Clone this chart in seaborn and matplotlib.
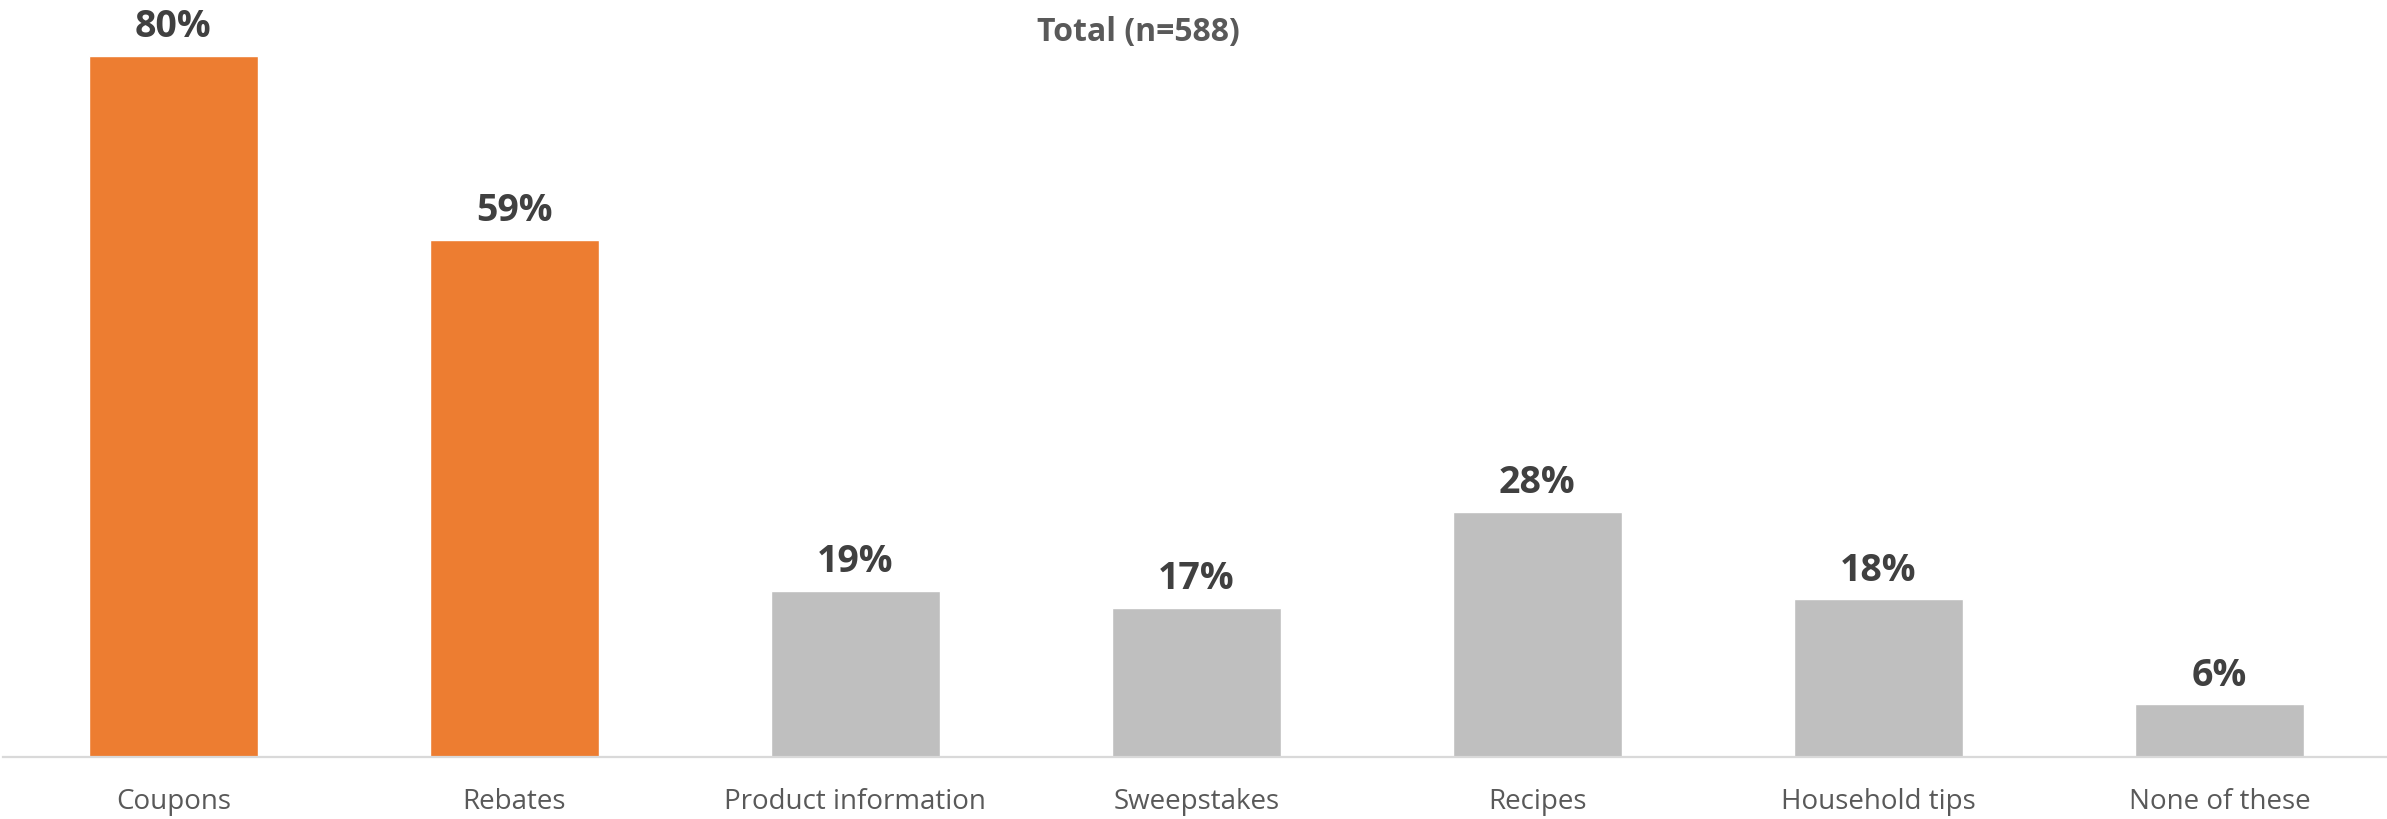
import matplotlib
matplotlib.use("Agg")
import matplotlib.pyplot as plt
import seaborn as sns
import pandas as pd

categories = ["Coupons", "Rebates", "Product information", "Sweepstakes",
              "Recipes", "Household tips", "None of these"]
values = [80, 59, 19, 17, 28, 18, 6]
labels = ["80%", "59%", "19%", "17%", "28%", "18%", "6%"]
highlight = [True, True, False, False, False, False, False]
subtitle = "Total (n=588)"

ORANGE = "#ED7D31"
GRAY = "#BFBFBF"

sns.set_theme(style="white")
plt.rcParams["font.family"] = ["Open Sans", "DejaVu Sans"]

df = pd.DataFrame({"category": categories, "value": values})
palette = {c: (ORANGE if h else GRAY) for c, h in zip(categories, highlight)}

fig = plt.figure(figsize=(23.87, 8.19), dpi=100)
ax = fig.add_axes([0.0012, 62 / 819, 1.0, 757 / 819])

sns.barplot(data=df, x="category", y="value", hue="category", palette=palette,
            width=0.495, legend=False, ax=ax, saturation=1)

ax.set_ylim(0, 86.4)
ax.set_xlim(-0.5, len(categories) - 0.5)
ax.set_xlabel("")
ax.set_ylabel("")
ax.set_yticks([])
for s in ["top", "left", "right"]:
    ax.spines[s].set_visible(False)
ax.spines["bottom"].set_color("#D9D9D9")
ax.spines["bottom"].set_linewidth(1.6)
ax.tick_params(axis="x", length=0, pad=22, labelsize=20, labelcolor="#595959")

for i, (v, lab) in enumerate(zip(values, labels)):
    ax.annotate(lab, (i, v), xytext=(0, 7), textcoords="offset points",
                ha="center", va="bottom", fontsize=27, fontweight="bold",
                color="#404040")

fig.text(1138 / 2387, 1 - 32 / 819, subtitle, ha="center", va="center",
         fontsize=23, fontweight="bold", color="#595959")

fig.savefig("out.png", dpi=100)
